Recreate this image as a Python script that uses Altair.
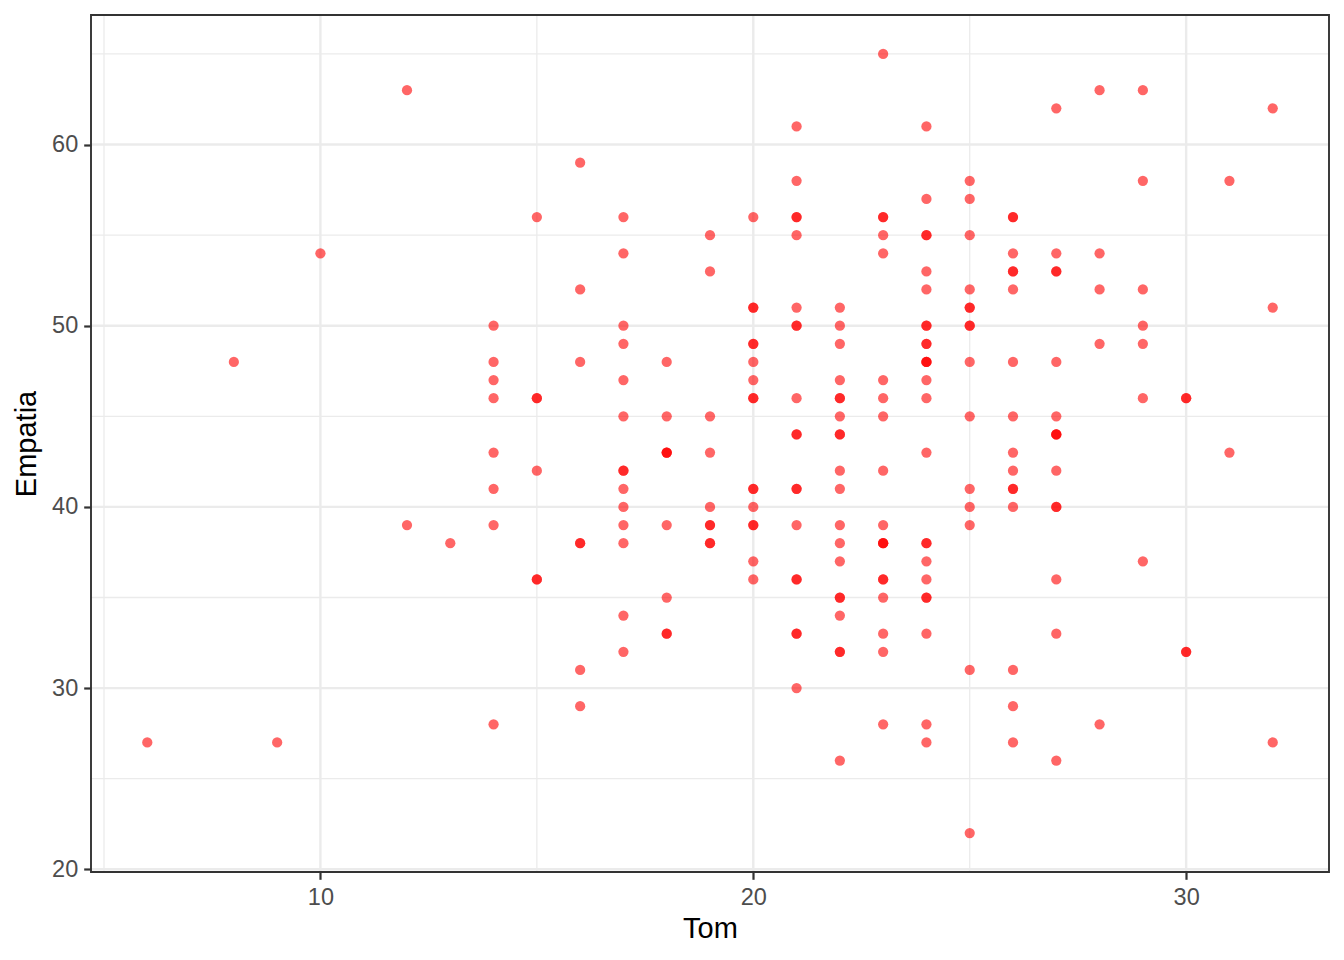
import altair as alt
import pandas as pd

# Tom values (x) and the Empatia values observed at each Tom level (repeats = overlapping points)
tom_levels = [6, 8, 9, 10, 12, 13, 14, 15, 16, 17, 18, 19, 20, 21, 22, 23, 24,
              25, 26, 27, 28, 29, 30, 31, 32]
empatia_by_tom = [
    [27],
    [48],
    [27],
    [54],
    [63, 39],
    [38],
    [50, 48, 47, 46, 43, 41, 39, 28],
    [56, 46, 46, 42, 36, 36],
    [59, 52, 48, 38, 38, 31, 29],
    [56, 54, 50, 49, 47, 45, 42, 42, 41, 40, 39, 38, 34, 32],
    [48, 45, 43, 43, 43, 39, 35, 33, 33],
    [55, 53, 45, 43, 40, 39, 39, 38, 38],
    [56, 51, 51, 49, 49, 48, 47, 46, 46, 41, 41, 40, 39, 39, 37, 36],
    [61, 58, 56, 56, 55, 51, 50, 50, 46, 44, 44, 41, 41, 39, 36, 36, 33, 33, 30],
    [51, 50, 49, 47, 46, 46, 45, 44, 44, 42, 41, 39, 38, 37, 35, 35, 34, 32, 32, 26],
    [65, 56, 56, 55, 54, 47, 46, 45, 42, 39, 38, 38, 38, 36, 36, 35, 33, 32, 28],
    [61, 57, 55, 55, 53, 52, 50, 50, 49, 49, 48, 48, 48, 47, 46, 43, 38, 38, 37,
     36, 35, 35, 33, 28, 27],
    [58, 57, 55, 52, 51, 51, 50, 50, 48, 45, 41, 40, 39, 31, 22],
    [56, 56, 54, 53, 53, 52, 48, 45, 43, 42, 41, 41, 40, 31, 29, 27],
    [62, 54, 53, 53, 48, 45, 44, 44, 44, 42, 40, 40, 36, 33, 26],
    [63, 54, 52, 49, 28],
    [63, 58, 52, 50, 49, 46, 37],
    [46, 46, 32, 32],
    [58, 43],
    [62, 51, 27],
]

x_major = [10, 20, 30]
x_minor = [5, 15, 25]
y_major = [20, 30, 40, 50, 60]
y_minor = [25, 35, 45, 55, 65]

rows = []
for t, vals in zip(tom_levels, empatia_by_tom):
    for v in vals:
        rows.append({"Tom": t, "Empatia": v})
df = pd.DataFrame(rows)

# ggplot-like 5% expansion
xr = df["Tom"].max() - df["Tom"].min()
yr = df["Empatia"].max() - df["Empatia"].min()
x_dom = [float(df["Tom"].min() - 0.05 * xr), float(df["Tom"].max() + 0.05 * xr)]
y_dom = [float(df["Empatia"].min() - 0.05 * yr), float(df["Empatia"].max() + 0.05 * yr)]

W, H = 1238, 857
FONT = "Liberation Sans"
GRID = "#EBEBEB"

xs = alt.Scale(domain=x_dom, nice=False, zero=False)
ys = alt.Scale(domain=y_dom, nice=False, zero=False)

x_axis = alt.Axis(
    values=x_major, format="d", grid=False, domain=False,
    tickColor="#333333", tickWidth=2.2, tickSize=7.3,
    labelFont=FONT, labelFontSize=23.5, labelColor="#4D4D4D",
    labelPadding=6, labelFlush=False,
    title="Tom", titleFont=FONT, titleFontSize=29, titleColor="#000000",
    titleFontWeight="normal", titleY=65, titleBaseline="alphabetic",
)
y_axis = alt.Axis(
    values=y_major, format="d", grid=False, domain=False,
    tickColor="#333333", tickWidth=2.2, tickSize=7.3,
    labelFont=FONT, labelFontSize=23.5, labelColor="#4D4D4D",
    labelPadding=6, labelFlush=False,
    title="Empatia", titleFont=FONT, titleFontSize=29, titleColor="#000000",
    titleFontWeight="normal", titleX=-56, titleBaseline="alphabetic",
    titleAngle=270,
)


def vrules(vals, width):
    return alt.Chart(pd.DataFrame({"Tom": vals})).mark_rule(
        color=GRID, strokeWidth=width
    ).encode(x=alt.X("Tom:Q", scale=xs, axis=x_axis))


def hrules(vals, width):
    return alt.Chart(pd.DataFrame({"Empatia": vals})).mark_rule(
        color=GRID, strokeWidth=width
    ).encode(y=alt.Y("Empatia:Q", scale=ys, axis=y_axis))


points = alt.Chart(df).mark_circle(color="#FF0000", opacity=0.6, size=105).encode(
    x=alt.X("Tom:Q", scale=xs, axis=x_axis),
    y=alt.Y("Empatia:Q", scale=ys, axis=y_axis),
)

border = alt.Chart(pd.DataFrame({"a": [0]})).mark_rect(
    filled=False, stroke="#333333", strokeWidth=1.9
).encode(x=alt.value(0), x2=alt.value(W), y=alt.value(0), y2=alt.value(H))

chart = alt.layer(
    vrules(x_minor, 1.3),
    hrules(y_minor, 1.3),
    vrules(x_major, 2.4),
    hrules(y_major, 2.4),
    points,
    border,
).properties(
    width=W,
    height=H,
    autosize=alt.AutoSizeParams(type="none"),
    padding={"left": 83, "top": 7, "right": 7, "bottom": 70},
    background="white",
).configure_view(stroke=None)

chart.save("out.html", embed_options={"renderer": "svg", "actions": False})
